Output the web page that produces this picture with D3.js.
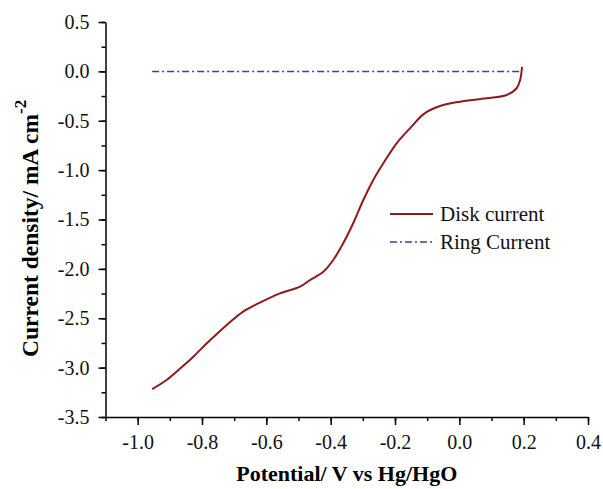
<!DOCTYPE html>
<html>
<head>
<meta charset="utf-8">
<script src="https://cdn.jsdelivr.net/npm/d3@7"></script>
<style>
  body { margin: 0; background: #fff; }
  text { font-family: "Liberation Serif", "Times New Roman", serif; }
</style>
</head>
<body>
<div id="chart"></div>
<script>
// potential (V vs Hg/HgO) and disk current density (mA cm-2)
var potential = [-0.955, -0.910, -0.868, -0.827, -0.785, -0.723, -0.672, -0.625, -0.5575, -0.495, -0.464,
    -0.423, -0.392, -0.361, -0.330, -0.2985, -0.2675, -0.2364, -0.195, -0.150, -0.110, -0.060, 0.002,
    0.085, 0.147, 0.178, 0.189, 0.195];
var diskCurrent = [-3.217, -3.125, -3.010, -2.889, -2.754, -2.568, -2.433, -2.350, -2.248, -2.180, -2.113,
    -2.029, -1.910, -1.741, -1.538, -1.303, -1.100, -0.931, -0.728, -0.565, -0.430, -0.351, -0.307,
    -0.273, -0.239, -0.171, -0.087, 0.044];
var ringPotential = [-0.955, 0.195];
var ringCurrent = [0, 0];

var xTicks = [-1.0, -0.8, -0.6, -0.4, -0.2, 0.0, 0.2, 0.4];
var yTicks = [0.5, 0.0, -0.5, -1.0, -1.5, -2.0, -2.5, -3.0, -3.5];
var seriesNames = ['Disk current', 'Ring Current'];

var width = 603, height = 489;
var margin = {top: 22, left: 105.5, right: 15, bottom: 72};

var svg = d3.select('#chart').append('svg')
    .attr('width', width)
    .attr('height', height);

var x = d3.scaleLinear().domain([-1.1, 0.4]).range([margin.left, 588]);
var y = d3.scaleLinear().domain([-3.5, 0.5]).range([417, margin.top]);

// plain hyphen for negative numbers, like the original
var fmt = function (d) { return d3.format('.1f')(d).replace('\u2212', '-'); };

// minor ticks first
svg.append('g')
    .attr('transform', 'translate(0,417)')
    .call(d3.axisBottom(x).tickValues(d3.range(-1.1, 0.41, 0.1)).tickSize(4).tickFormat(''))
    .call(function (g) { g.select('.domain').remove(); });
svg.append('g')
    .attr('transform', 'translate(' + margin.left + ',0)')
    .call(d3.axisLeft(y).tickValues(d3.range(-3.5, 0.51, 0.25)).tickSize(4).tickFormat(''))
    .call(function (g) { g.select('.domain').remove(); });

var xAxis = svg.append('g')
    .attr('transform', 'translate(0,417)')
    .call(d3.axisBottom(x).tickValues(xTicks).tickSize(8).tickSizeOuter(0).tickFormat(fmt));
var yAxis = svg.append('g')
    .attr('transform', 'translate(' + margin.left + ',0)')
    .call(d3.axisLeft(y).tickValues(yTicks).tickSize(7).tickSizeOuter(0).tickFormat(fmt));

svg.selectAll('.domain, .tick line').attr('stroke', '#000').attr('stroke-width', 1.5);
xAxis.selectAll('text').attr('font-size', 20).attr('dy', '1.05em').attr('fill', '#111');
yAxis.selectAll('text').attr('font-size', 20).attr('dx', '-0.3em').attr('fill', '#111');

// curves
var diskLine = d3.line()
    .x(function (d, i) { return x(potential[i]); })
    .y(function (d) { return y(d); })
    .curve(d3.curveCatmullRom);
svg.append('path')
    .datum(diskCurrent)
    .attr('d', diskLine)
    .attr('fill', 'none')
    .attr('stroke', '#8e1b1b')
    .attr('stroke-width', 2);

var ringLine = d3.line()
    .x(function (d, i) { return x(ringPotential[i]); })
    .y(function (d) { return y(d); });
svg.append('path')
    .datum(ringCurrent)
    .attr('d', ringLine)
    .attr('fill', 'none')
    .attr('stroke', '#3f3f9e')
    .attr('stroke-width', 1.5)
    .attr('stroke-dasharray', '7,3,2,3');

// legend
var legend = svg.append('g').attr('transform', 'translate(390,214)');
legend.append('line').attr('x1', 0).attr('x2', 43).attr('y1', 0).attr('y2', 0)
    .attr('stroke', '#8e1b1b').attr('stroke-width', 2);
legend.append('line').attr('x1', 0).attr('x2', 43).attr('y1', 28).attr('y2', 28)
    .attr('stroke', '#3f3f9e').attr('stroke-width', 1.5).attr('stroke-dasharray', '7,3,2,3');
legend.selectAll('text.lab')
    .data(seriesNames)
    .enter().append('text')
    .attr('class', 'lab')
    .attr('x', 50)
    .attr('y', function (d, i) { return 7 + i * 28; })
    .attr('font-size', 21)
    .attr('fill', '#111')
    .text(function (d) { return d; });

// axis titles
svg.append('text')
    .attr('x', (margin.left + 588) / 2)
    .attr('y', 481)
    .attr('text-anchor', 'middle')
    .attr('font-size', 22)
    .attr('font-weight', 'bold')
    .text('Potential/ V vs Hg/HgO');

var yTitle = svg.append('text')
    .attr('transform', 'translate(38,357) rotate(-90)')
    .attr('text-anchor', 'start')
    .attr('font-size', 23.5)
    .attr('font-weight', 'bold');
yTitle.append('tspan').text('Current density/ mA cm');
yTitle.append('tspan').attr('dy', -12).attr('font-size', 17).text('-2');
</script>
</body>
</html>
